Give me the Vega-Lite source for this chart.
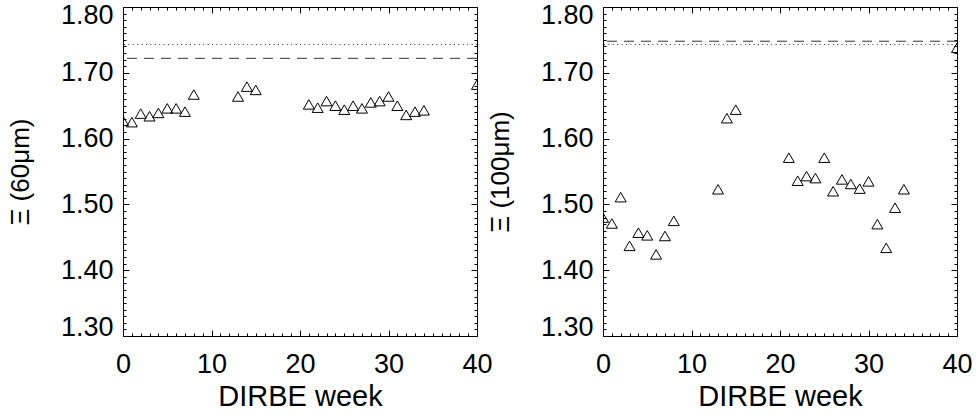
{
  "$schema": "https://vega.github.io/schema/vega-lite/v6.json",
  "background": "white",
  "padding": {"left": 6, "top": 0, "right": 0, "bottom": 0},
  "bounds": "flush",
  "spacing": 126,
  "config": {
    "view": {"stroke": "black", "strokeWidth": 1},
    "axis": {
      "domain": false,
      "grid": false,
      "labelFont": "Liberation Sans",
      "labelFontSize": 27,
      "labelColor": "black",
      "labelOverlap": false,
      "tickColor": "black",
      "tickWidth": 1,
      "titleFont": "Liberation Sans",
      "titleFontWeight": "normal",
      "titleColor": "black"
    }
  },
  "datasets": {
    "p60": [
      {"week": 0, "xi": 1.627}, {"week": 1, "xi": 1.625}, {"week": 2, "xi": 1.638}, {"week": 3, "xi": 1.634},
      {"week": 4, "xi": 1.639}, {"week": 5, "xi": 1.646}, {"week": 6, "xi": 1.646}, {"week": 7, "xi": 1.641},
      {"week": 8, "xi": 1.667}, {"week": 13, "xi": 1.664}, {"week": 14, "xi": 1.679}, {"week": 15, "xi": 1.674},
      {"week": 21, "xi": 1.652}, {"week": 22, "xi": 1.647}, {"week": 23, "xi": 1.657}, {"week": 24, "xi": 1.650},
      {"week": 25, "xi": 1.644}, {"week": 26, "xi": 1.650}, {"week": 27, "xi": 1.646}, {"week": 28, "xi": 1.655},
      {"week": 29, "xi": 1.657}, {"week": 30, "xi": 1.664}, {"week": 31, "xi": 1.650}, {"week": 32, "xi": 1.636},
      {"week": 33, "xi": 1.641}, {"week": 34, "xi": 1.643}, {"week": 40, "xi": 1.682}
    ],
    "p100": [
      {"week": 0, "xi": 1.480}, {"week": 1, "xi": 1.471}, {"week": 2, "xi": 1.511}, {"week": 3, "xi": 1.437},
      {"week": 4, "xi": 1.457}, {"week": 5, "xi": 1.453}, {"week": 6, "xi": 1.424}, {"week": 7, "xi": 1.452},
      {"week": 8, "xi": 1.475}, {"week": 13, "xi": 1.523}, {"week": 14, "xi": 1.631}, {"week": 15, "xi": 1.644},
      {"week": 21, "xi": 1.571}, {"week": 22, "xi": 1.536}, {"week": 23, "xi": 1.543}, {"week": 24, "xi": 1.540},
      {"week": 25, "xi": 1.571}, {"week": 26, "xi": 1.520}, {"week": 27, "xi": 1.538}, {"week": 28, "xi": 1.531},
      {"week": 29, "xi": 1.524}, {"week": 30, "xi": 1.535}, {"week": 31, "xi": 1.470}, {"week": 32, "xi": 1.434},
      {"week": 33, "xi": 1.495}, {"week": 34, "xi": 1.523}, {"week": 40, "xi": 1.738}
    ],
    "lines60": [{"kind": "dashed", "level": 1.722}, {"kind": "dotted", "level": 1.743}],
    "lines100": [{"kind": "dashed", "level": 1.748}, {"kind": "dotted", "level": 1.743}]
  },
  "hconcat": [
    {
      "width": 354,
      "height": 329,
      "resolve": {"axis": {"x": "independent", "y": "independent"}},
      "layer": [
        {
          "data": {"name": "lines60"},
          "mark": {"type": "rule", "color": "#333", "strokeWidth": 1},
          "encoding": {
            "y": {"field": "level", "type": "quantitative", "scale": {"domain": [1.3, 1.8], "nice": false, "zero": false}, "axis": null},
            "strokeDash": {"field": "kind", "type": "nominal", "scale": {"domain": ["dashed", "dotted"], "range": [[10, 7], [1, 3.4]]}, "legend": null}
          }
        },
        {
          "data": {"name": "p60"},
          "mark": {"type": "point", "shape": "triangle-up", "filled": false, "size": 121, "stroke": "black", "strokeWidth": 1, "opacity": 1, "clip": true},
          "encoding": {
            "x": {"field": "week", "type": "quantitative", "scale": {"domain": [0, 40], "nice": false, "zero": false},
              "axis": {"orient": "bottom", "values": [0, 10, 20, 30, 40], "format": "d", "ticks": false, "labelPadding": 15, "labelFlush": false, "title": "DIRBE week", "titleFontSize": 29, "titlePadding": 5}},
            "y": {"field": "xi", "type": "quantitative", "scale": {"domain": [1.3, 1.8], "nice": false, "zero": false},
              "axis": {"orient": "left", "values": [1.3, 1.4, 1.5, 1.6, 1.7, 1.8], "format": ".2f", "ticks": false, "labelPadding": 10, "labelFlush": true, "labelFlushOffset": 5, "title": "Ξ (60μm)", "titleFontSize": 26, "titlePadding": 27}}
          }
        },
        {
          "data": {"name": "p60"},
          "mark": {"type": "point", "opacity": 0, "clip": true},
          "encoding": {
            "x": {"field": "week", "type": "quantitative", "scale": {"domain": [0, 40], "nice": false, "zero": false},
              "axis": {"orient": "bottom", "values": [0, 10, 20, 30, 40], "labels": false, "tickSize": -6, "title": null}},
            "y": {"field": "xi", "type": "quantitative", "scale": {"domain": [1.3, 1.8], "nice": false, "zero": false},
              "axis": {"orient": "left", "values": [1.3, 1.4, 1.5, 1.6, 1.7, 1.8], "labels": false, "tickSize": -6, "title": null}}
          }
        },
        {
          "data": {"name": "p60"},
          "mark": {"type": "point", "opacity": 0, "clip": true},
          "encoding": {
            "x": {"field": "week", "type": "quantitative", "scale": {"domain": [0, 40], "nice": false, "zero": false},
              "axis": {"orient": "bottom", "values": [0,1,2,3,4,5,6,7,8,9,10,11,12,13,14,15,16,17,18,19,20,21,22,23,24,25,26,27,28,29,30,31,32,33,34,35,36,37,38,39,40], "labels": false, "tickSize": -3, "title": null}},
            "y": {"field": "xi", "type": "quantitative", "scale": {"domain": [1.3, 1.8], "nice": false, "zero": false},
              "axis": {"orient": "left", "values": [1.3,1.31,1.32,1.33,1.34,1.35,1.36,1.37,1.38,1.39,1.4,1.41,1.42,1.43,1.44,1.45,1.46,1.47,1.48,1.49,1.5,1.51,1.52,1.53,1.54,1.55,1.56,1.57,1.58,1.59,1.6,1.61,1.62,1.63,1.64,1.65,1.66,1.67,1.68,1.69,1.7,1.71,1.72,1.73,1.74,1.75,1.76,1.77,1.78,1.79,1.8], "labels": false, "tickSize": -3, "title": null}}
          }
        },
        {
          "data": {"name": "p60"},
          "mark": {"type": "point", "opacity": 0, "clip": true},
          "encoding": {
            "x": {"field": "week", "type": "quantitative", "scale": {"domain": [0, 40], "nice": false, "zero": false},
              "axis": {"orient": "top", "values": [0, 10, 20, 30, 40], "labels": false, "tickSize": -6, "title": null}},
            "y": {"field": "xi", "type": "quantitative", "scale": {"domain": [1.3, 1.8], "nice": false, "zero": false},
              "axis": {"orient": "right", "values": [1.3, 1.4, 1.5, 1.6, 1.7, 1.8], "labels": false, "tickSize": -6, "title": null}}
          }
        },
        {
          "data": {"name": "p60"},
          "mark": {"type": "point", "opacity": 0, "clip": true},
          "encoding": {
            "x": {"field": "week", "type": "quantitative", "scale": {"domain": [0, 40], "nice": false, "zero": false},
              "axis": {"orient": "top", "values": [0,1,2,3,4,5,6,7,8,9,10,11,12,13,14,15,16,17,18,19,20,21,22,23,24,25,26,27,28,29,30,31,32,33,34,35,36,37,38,39,40], "labels": false, "tickSize": -3, "title": null}},
            "y": {"field": "xi", "type": "quantitative", "scale": {"domain": [1.3, 1.8], "nice": false, "zero": false},
              "axis": {"orient": "right", "values": [1.3,1.31,1.32,1.33,1.34,1.35,1.36,1.37,1.38,1.39,1.4,1.41,1.42,1.43,1.44,1.45,1.46,1.47,1.48,1.49,1.5,1.51,1.52,1.53,1.54,1.55,1.56,1.57,1.58,1.59,1.6,1.61,1.62,1.63,1.64,1.65,1.66,1.67,1.68,1.69,1.7,1.71,1.72,1.73,1.74,1.75,1.76,1.77,1.78,1.79,1.8], "labels": false, "tickSize": -3, "title": null}}
          }
        }
      ]
    },
    {
      "width": 354,
      "height": 329,
      "resolve": {"axis": {"x": "independent", "y": "independent"}},
      "layer": [
        {
          "data": {"name": "lines100"},
          "mark": {"type": "rule", "color": "#333", "strokeWidth": 1},
          "encoding": {
            "y": {"field": "level", "type": "quantitative", "scale": {"domain": [1.3, 1.8], "nice": false, "zero": false}, "axis": null},
            "strokeDash": {"field": "kind", "type": "nominal", "scale": {"domain": ["dashed", "dotted"], "range": [[10, 7], [1, 3.4]]}, "legend": null}
          }
        },
        {
          "data": {"name": "p100"},
          "mark": {"type": "point", "shape": "triangle-up", "filled": false, "size": 121, "stroke": "black", "strokeWidth": 1, "opacity": 1, "clip": true},
          "encoding": {
            "x": {"field": "week", "type": "quantitative", "scale": {"domain": [0, 40], "nice": false, "zero": false},
              "axis": {"orient": "bottom", "values": [0, 10, 20, 30, 40], "format": "d", "ticks": false, "labelPadding": 15, "labelFlush": false, "title": "DIRBE week", "titleFontSize": 29, "titlePadding": 5}},
            "y": {"field": "xi", "type": "quantitative", "scale": {"domain": [1.3, 1.8], "nice": false, "zero": false},
              "axis": {"orient": "left", "values": [1.3, 1.4, 1.5, 1.6, 1.7, 1.8], "format": ".2f", "ticks": false, "labelPadding": 10, "labelFlush": true, "labelFlushOffset": 5, "title": "Ξ (100μm)", "titleFontSize": 26, "titlePadding": 27}}
          }
        },
        {
          "data": {"name": "p100"},
          "mark": {"type": "point", "opacity": 0, "clip": true},
          "encoding": {
            "x": {"field": "week", "type": "quantitative", "scale": {"domain": [0, 40], "nice": false, "zero": false},
              "axis": {"orient": "bottom", "values": [0, 10, 20, 30, 40], "labels": false, "tickSize": -6, "title": null}},
            "y": {"field": "xi", "type": "quantitative", "scale": {"domain": [1.3, 1.8], "nice": false, "zero": false},
              "axis": {"orient": "left", "values": [1.3, 1.4, 1.5, 1.6, 1.7, 1.8], "labels": false, "tickSize": -6, "title": null}}
          }
        },
        {
          "data": {"name": "p100"},
          "mark": {"type": "point", "opacity": 0, "clip": true},
          "encoding": {
            "x": {"field": "week", "type": "quantitative", "scale": {"domain": [0, 40], "nice": false, "zero": false},
              "axis": {"orient": "bottom", "values": [0,1,2,3,4,5,6,7,8,9,10,11,12,13,14,15,16,17,18,19,20,21,22,23,24,25,26,27,28,29,30,31,32,33,34,35,36,37,38,39,40], "labels": false, "tickSize": -3, "title": null}},
            "y": {"field": "xi", "type": "quantitative", "scale": {"domain": [1.3, 1.8], "nice": false, "zero": false},
              "axis": {"orient": "left", "values": [1.3,1.31,1.32,1.33,1.34,1.35,1.36,1.37,1.38,1.39,1.4,1.41,1.42,1.43,1.44,1.45,1.46,1.47,1.48,1.49,1.5,1.51,1.52,1.53,1.54,1.55,1.56,1.57,1.58,1.59,1.6,1.61,1.62,1.63,1.64,1.65,1.66,1.67,1.68,1.69,1.7,1.71,1.72,1.73,1.74,1.75,1.76,1.77,1.78,1.79,1.8], "labels": false, "tickSize": -3, "title": null}}
          }
        },
        {
          "data": {"name": "p100"},
          "mark": {"type": "point", "opacity": 0, "clip": true},
          "encoding": {
            "x": {"field": "week", "type": "quantitative", "scale": {"domain": [0, 40], "nice": false, "zero": false},
              "axis": {"orient": "top", "values": [0, 10, 20, 30, 40], "labels": false, "tickSize": -6, "title": null}},
            "y": {"field": "xi", "type": "quantitative", "scale": {"domain": [1.3, 1.8], "nice": false, "zero": false},
              "axis": {"orient": "right", "values": [1.3, 1.4, 1.5, 1.6, 1.7, 1.8], "labels": false, "tickSize": -6, "title": null}}
          }
        },
        {
          "data": {"name": "p100"},
          "mark": {"type": "point", "opacity": 0, "clip": true},
          "encoding": {
            "x": {"field": "week", "type": "quantitative", "scale": {"domain": [0, 40], "nice": false, "zero": false},
              "axis": {"orient": "top", "values": [0,1,2,3,4,5,6,7,8,9,10,11,12,13,14,15,16,17,18,19,20,21,22,23,24,25,26,27,28,29,30,31,32,33,34,35,36,37,38,39,40], "labels": false, "tickSize": -3, "title": null}},
            "y": {"field": "xi", "type": "quantitative", "scale": {"domain": [1.3, 1.8], "nice": false, "zero": false},
              "axis": {"orient": "right", "values": [1.3,1.31,1.32,1.33,1.34,1.35,1.36,1.37,1.38,1.39,1.4,1.41,1.42,1.43,1.44,1.45,1.46,1.47,1.48,1.49,1.5,1.51,1.52,1.53,1.54,1.55,1.56,1.57,1.58,1.59,1.6,1.61,1.62,1.63,1.64,1.65,1.66,1.67,1.68,1.69,1.7,1.71,1.72,1.73,1.74,1.75,1.76,1.77,1.78,1.79,1.8], "labels": false, "tickSize": -3, "title": null}}
          }
        }
      ]
    }
  ]
}
